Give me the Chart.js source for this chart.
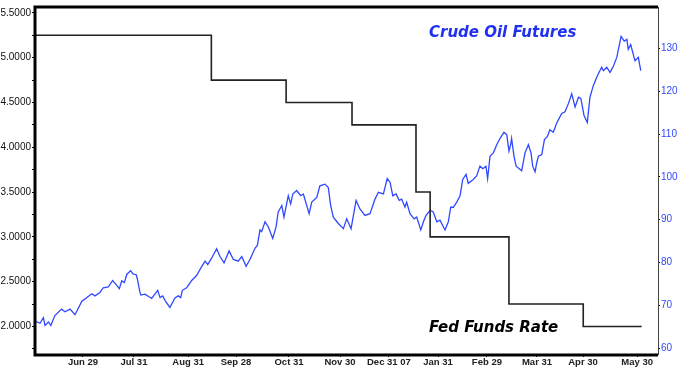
<!DOCTYPE html>
<html>
<head>
<meta charset="utf-8">
<script src="https://cdn.jsdelivr.net/npm/chart.js@4.4.1/dist/chart.umd.min.js"></script>
<style>
  html, body { margin: 0; padding: 0; background: #fff; }
  #wrap { width: 680px; height: 369px; }
</style>
</head>
<body>
<div id="wrap"><canvas id="chart" width="680" height="369"></canvas></div>
<script>
// x = trading day counted from the end of May 2007
const tickDay = [20.0, 41.3, 63.9, 83.9, 106.0, 127.3, 147.7, 168.2, 188.6, 209.5, 228.7, 251.3];
const tickLabel = ["Jun 29", "Jul 31", "Aug 31", "Sep 28", "Oct 31", "Nov 30", "Dec 31 07", "Jan 31", "Feb 29", "Mar 31", "Apr 30", "May 30"];

const rateTicks = [1.75, 2.0, 2.25, 2.5, 2.75, 3.0, 3.25, 3.5, 3.75, 4.0, 4.25, 4.5, 4.75, 5.0, 5.25, 5.5];
const oilTicks = [60, 70, 80, 90, 100, 110, 120, 130];

// Fed funds target rate (%), each value starts at its day
const fedDay = [0, 73.6, 104.8, 132.3, 159.0, 164.9, 197.8, 228.8, 253.2];
const fedRate = [5.25, 4.75, 4.50, 4.25, 3.50, 3.00, 2.25, 2.00, 2.00];

// crude oil futures ($/bbl)
const oilDay = [0, 2.1, 3.5, 4.2, 5.6, 6.6, 8.3, 11.1, 12.5, 14.6,
  16.7, 19.5, 23.7, 25.0, 27.1, 28.5, 30.6, 32.4, 33.8, 35.2,
  36.2, 37.3, 38.3, 39.9, 41.0, 42.2, 42.7, 43.8, 44.2, 45.9,
  48.7, 51.2, 52.2, 53.3, 54.3, 56.3, 58.4, 59.8, 60.8, 61.5,
  63.3, 65.4, 67.5, 69.6, 71.0, 72.1, 73.7, 75.8, 77.2, 78.9,
  81.0, 82.8, 84.8, 86.3, 88.1, 89.7, 91.8, 92.8, 93.9, 94.6,
  96.0, 97.4, 99.2, 100.6, 101.5, 103.0, 103.9, 105.7, 106.7, 107.6,
  109.2, 110.9, 112.0, 114.4, 115.5, 117.6, 118.9, 121.0, 122.4, 123.4,
  124.5, 126.6, 128.7, 130.1, 131.9, 134.0, 135.6, 137.7, 139.8, 141.9,
  143.3, 145.4, 147.0, 148.2, 149.3, 150.7, 152.0, 153.0, 154.4, 155.1,
  156.5, 158.2, 159.3, 161.0, 162.1, 163.2, 164.9, 166.2, 167.7, 169.0,
  171.1, 172.5, 173.5, 174.6, 176.0, 177.4, 178.5, 179.9, 180.8, 182.9,
  184.3, 185.7, 186.9, 188.2, 188.9, 189.9, 191.3, 192.7, 194.1, 195.7,
  196.9, 197.8, 198.5, 198.9, 199.9, 200.8, 203.1, 204.5, 205.9, 207.0,
  207.7, 208.7, 209.4, 210.1, 211.5, 212.6, 213.8, 214.9, 216.3, 217.7,
  219.8, 221.2, 222.6, 224.0, 225.4, 226.8, 227.8, 229.1, 230.5, 231.6,
  233.0, 234.7, 236.5, 237.2, 238.6, 240.0, 241.4, 242.8, 244.6, 245.9,
  247.0, 247.6, 248.6, 250.4, 251.8, 252.8];
const oilPrice = [66.3, 65.8, 67.1, 65.3, 66.1, 65.3, 67.6, 69.1, 68.5, 69.1,
  67.8, 70.9, 72.7, 72.2, 73.0, 74.1, 74.3, 75.8, 74.9, 73.9,
  75.7, 75.3, 77.2, 78.1, 77.3, 77.2, 76.2, 73.0, 72.4, 72.6,
  71.6, 73.5, 71.8, 72.2, 71.1, 69.5, 71.7, 72.2, 71.8, 73.5,
  74.1, 75.8, 77.0, 79.1, 80.3, 79.5, 81.0, 83.2, 81.4, 79.9,
  82.7, 80.7, 80.3, 81.4, 79.1, 80.7, 83.3, 84.0, 87.6, 87.2,
  89.5, 88.3, 85.6, 88.3, 91.8, 93.3, 90.6, 95.6, 93.7, 96.0,
  96.8, 95.6, 96.0, 91.4, 94.1, 95.2, 97.9, 98.3, 97.5, 93.3,
  90.6, 89.1, 87.9, 90.2, 87.9, 94.5, 92.5, 91.0, 91.4, 94.8,
  96.4, 96.0, 99.6, 98.7, 95.6, 96.0, 94.5, 94.8, 92.9, 94.1,
  91.4, 90.2, 90.6, 87.6, 89.5, 91.0, 92.2, 91.8, 89.5, 89.9,
  87.6, 89.5, 92.9, 92.9, 94.1, 95.6, 99.4, 100.6, 98.5, 99.4,
  100.2, 102.5, 101.9, 102.5, 99.6, 104.8, 105.6, 107.5, 109.0, 110.4,
  109.8, 106.0, 107.5, 109.0, 104.8, 102.5, 101.4, 105.6, 107.5, 105.6,
  102.5, 101.2, 103.3, 104.8, 105.2, 108.7, 109.4, 111.0, 110.4, 112.5,
  114.8, 115.2, 117.1, 119.4, 116.3, 118.6, 118.3, 114.4, 112.7, 118.6,
  121.3, 123.6, 125.6, 124.8, 125.6, 124.4, 125.9, 127.9, 132.8, 131.7,
  132.1, 129.8, 130.9, 127.1, 127.9, 124.8];

const blue = "#3048ff";

// frame round the plot and the two captions
const framePlugin = {
  id: "frame",
  afterDraw(chart) {
    const { ctx, chartArea: a } = chart;
    ctx.save();
    ctx.strokeStyle = "#000";
    ctx.lineWidth = 3;
    ctx.beginPath();
    ctx.moveTo(a.right, a.top);
    ctx.lineTo(a.left, a.top);
    ctx.lineTo(a.left, a.bottom);
    ctx.lineTo(a.right, a.bottom);
    ctx.stroke();
    ctx.lineWidth = 1;
    ctx.strokeStyle = "#444";
    ctx.beginPath();
    ctx.moveTo(a.right + 0.5, a.top);
    ctx.lineTo(a.right + 0.5, a.bottom);
    ctx.stroke();

    ctx.font = "italic bold 15px 'DejaVu Sans'";
    ctx.textBaseline = "alphabetic";
    ctx.fillStyle = "#1f30f0";
    ctx.fillText("Crude Oil Futures", 429, 37);
    ctx.fillStyle = "#000";
    ctx.fillText("Fed Funds Rate", 429, 332);
    ctx.restore();
  }
};

new Chart(document.getElementById("chart"), {
  type: "line",
  data: {
    datasets: [
      {
        label: "Fed Funds Rate",
        data: fedDay.map((d, i) => ({ x: d, y: fedRate[i] })),
        yAxisID: "y",
        borderColor: "#222",
        borderWidth: 1.6,
        stepped: true,
        pointRadius: 0
      },
      {
        label: "Crude Oil Futures",
        data: oilDay.map((d, i) => ({ x: d, y: oilPrice[i] })),
        yAxisID: "y1",
        borderColor: blue,
        borderWidth: 1.3,
        tension: 0,
        pointRadius: 0
      }
    ]
  },
  options: {
    responsive: false,
    animation: false,
    layout: { padding: { top: 2 } },
    plugins: { legend: { display: false }, tooltip: { enabled: false } },
    scales: {
      x: {
        type: "linear",
        min: 0,
        max: 260,
        afterFit: (s) => { s.height = 14; },
        afterBuildTicks: (s) => { s.ticks = tickDay.map(v => ({ value: v })); },
        grid: { drawOnChartArea: false, tickLength: 2, color: "#000" },
        border: { display: false },
        ticks: {
          padding: 0,
          maxRotation: 0,
          autoSkip: false,
          color: "#222",
          font: { family: "'Liberation Sans'", size: 9.5, weight: "bold" },
          callback: (v) => tickLabel[tickDay.indexOf(v)]
        }
      },
      y: {
        position: "left",
        min: 1.681,
        max: 5.566,
        afterFit: (s) => { s.width = 35; },
        afterBuildTicks: (s) => { s.ticks = rateTicks.map(v => ({ value: v })); },
        grid: { drawOnChartArea: false, tickLength: 3, color: "#000" },
        border: { display: false },
        ticks: {
          padding: 1,
          color: "#111",
          font: { family: "'Liberation Sans'", size: 10 },
          callback: (v) => (Math.round(v * 2) === v * 2 ? v.toFixed(4) : "")
        }
      },
      y1: {
        position: "right",
        min: 58.39,
        max: 139.67,
        afterFit: (s) => { s.width = 22; },
        afterBuildTicks: (s) => { s.ticks = oilTicks.map(v => ({ value: v })); },
        grid: { drawOnChartArea: false, tickLength: 2, color: "#000" },
        border: { display: false },
        ticks: {
          padding: 1,
          color: blue,
          font: { family: "'Liberation Sans'", size: 10 }
        }
      }
    }
  },
  plugins: [framePlugin]
});
</script>
</body>
</html>
